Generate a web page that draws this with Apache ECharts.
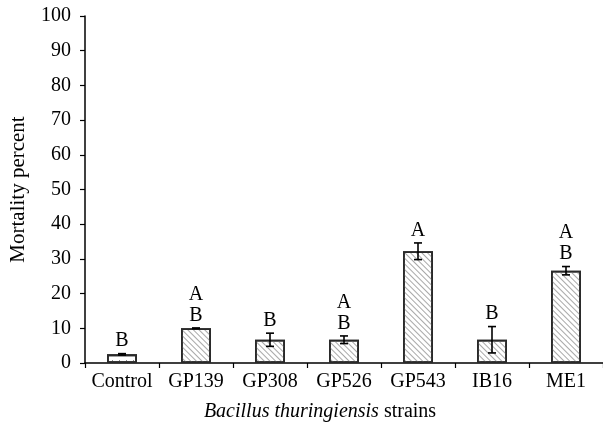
<!DOCTYPE html>
<html>
<head>
<meta charset="utf-8">
<script src="https://cdn.jsdelivr.net/npm/echarts@6/dist/echarts.min.js"></script>
<style>html,body{margin:0;padding:0;background:#fff;}#c{width:603px;height:430px;}</style>
</head>
<body>
<div id="c"></div>
<script>
const categories = ['Control', 'GP139', 'GP308', 'GP526', 'GP543', 'IB16', 'ME1'];
const mortality = [2.5, 10, 6.7, 6.7, 32.2, 6.7, 26.6];
const errors = [0.2, 0.1, 1.9, 1.1, 2.4, 3.8, 1.2];
const letters = ['B', 'A\nB', 'B', 'A\nB', 'A', 'B', 'A\nB'];
const yTicks = [0, 10, 20, 30, 40, 50, 60, 70, 80, 90, 100];

const FONT = 'Liberation Serif';
const FS = 20;
const hatch = { symbol: 'rect', symbolSize: 1, dashArrayX: [1, 0], dashArrayY: [1, 2.2], rotation: Math.PI / 4, color: '#a8a8a8' };
const dots = { symbol: 'rect', symbolSize: 1, dashArrayX: [1, 6], dashArrayY: [1, 5], rotation: 0, color: '#888' };

const chart = echarts.init(document.getElementById('c'));
chart.setOption({
  animation: false,
  backgroundColor: '#fff',
  grid: { left: 85, top: 16, width: 525, height: 347, containLabel: false },
  xAxis: {
    type: 'category',
    data: categories,
    boundaryGap: true,
    axisLine: { lineStyle: { color: '#000', width: 1.5 } },
    axisTick: { show: true, length: 5, interval: 0, lineStyle: { color: '#000', width: 1.2 } },
    axisLabel: { interval: 0, margin: 9, color: '#000', fontFamily: FONT, fontSize: FS },
    name: '{i|Bacillus thuringiensis} strains',
    nameLocation: 'middle',
    nameGap: 39,
    nameTextStyle: {
      color: '#000', fontFamily: FONT, fontSize: FS, padding: [0, 48, 0, 0],
      rich: { i: { fontStyle: 'italic', fontFamily: FONT, fontSize: FS, color: '#000' } }
    }
  },
  yAxis: {
    type: 'value',
    min: yTicks[0], max: yTicks[yTicks.length - 1], interval: 10,
    splitLine: { show: false },
    axisLine: { show: true, lineStyle: { color: '#000', width: 1.5 } },
    axisTick: { show: true, length: 5, lineStyle: { color: '#000', width: 1.2 } },
    axisLabel: { margin: 14, color: '#000', fontFamily: FONT, fontSize: FS },
    name: 'Mortality percent',
    nameLocation: 'middle',
    nameGap: 56,
    nameTextStyle: { color: '#000', fontFamily: FONT, fontSize: FS + 1 }
  },
  series: [
    {
      type: 'bar',
      barWidth: 30,
      data: mortality.map((v, i) => ({
        value: v,
        itemStyle: { color: '#fff', borderColor: '#2a2a2a', borderWidth: 1.8, decal: i === 0 ? dots : hatch }
      })),
      z: 2
    },
    {
      type: 'custom',
      data: mortality.map((v, i) => [i, v, errors[i]]),
      z: 5,
      renderItem: function (params, api) {
        const i = api.value(0), m = api.value(1), e = api.value(2);
        const t = api.coord([i, m + e]);
        const b = api.coord([i, m - e]);
        const hw = 4;
        const ls = { stroke: '#000', lineWidth: 1.6 };
        return {
          type: 'group',
          children: [
            { type: 'line', shape: { x1: t[0], y1: t[1], x2: b[0], y2: b[1] }, style: ls },
            { type: 'line', shape: { x1: t[0] - hw, y1: t[1], x2: t[0] + hw, y2: t[1] }, style: ls },
            { type: 'line', shape: { x1: b[0] - hw, y1: b[1], x2: b[0] + hw, y2: b[1] }, style: ls },
            {
              type: 'text',
              x: t[0], y: t[1] - 2,
              style: {
                text: letters[i], align: 'center', verticalAlign: 'bottom',
                fontFamily: FONT, fontSize: FS, lineHeight: 21, fill: '#000'
              }
            }
          ]
        };
      }
    }
  ]
});
</script>
</body>
</html>
